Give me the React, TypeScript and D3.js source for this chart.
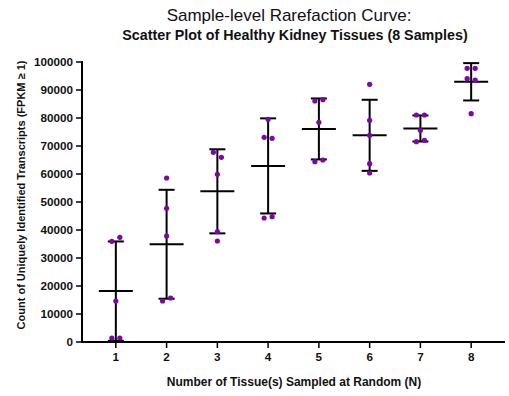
import React from "react";
import * as d3 from "d3";

// Tissues sampled at random (N) and the transcript counts observed for each draw
const groups = [1, 2, 3, 4, 5, 6, 7, 8];
const n1 = [35960, 37390, 14640, 1430, 1430];
const n2 = [58570, 47750, 37860, 14640, 15710];
const n3 = [67750, 65960, 59890, 39390, 36070];
const n4 = [73110, 72750, 79540, 44290, 44750];
const n5 = [86070, 86540, 78460, 64390, 65000];
const n6 = [92040, 79180, 73820, 63680, 60360];
const n7 = [81070, 81070, 75610, 71540, 72040];
const n8 = [97750, 97750, 94040, 93570, 81540];
const samples = [n1, n2, n3, n4, n5, n6, n7, n8];

const yTicks = [0, 10000, 20000, 30000, 40000, 50000, 60000, 70000, 80000, 90000, 100000];

const W = 509;
const H = 396;
const font = "'Liberation Sans', Arial, sans-serif";

export default function App() {
  const x = d3.scaleLinear().domain([1 / 3, 8 + 2 / 3]).range([82, 505]);
  const y = d3.scaleLinear().domain([0, 100000]).range([342, 62]);

  const purple = "#7D06A6";
  const dotR = 2.6;
  const halfMean = 17;
  const halfCap = 8;

  // Points whose values land within a few pixels are spread side by side
  const placeDots = (vals: number[]) => {
    const order = vals.map((v, i) => i).sort((a, b) => vals[b] - vals[a]);
    const clusters: number[][] = [];
    order.forEach((i) => {
      const last = clusters[clusters.length - 1];
      if (last && Math.abs(y(vals[last[last.length - 1]]) - y(vals[i])) < 7) last.push(i);
      else clusters.push([i]);
    });
    const off: number[] = new Array(vals.length).fill(0);
    clusters.forEach((c) => {
      const sorted = [...c].sort((a, b) => a - b);
      sorted.forEach((idx, k) => {
        off[idx] = (k - (sorted.length - 1) / 2) * 8;
      });
    });
    return off;
  };

  return (
    <svg width={W} height={H} style={{ position: "absolute", left: 0, top: 0 }}>
      <rect width={W} height={H} fill="#fff" />
      <text x={289} y={21} textAnchor="middle" fontFamily={font} fontSize={17} fill="#111">
        Sample-level Rarefaction Curve:
      </text>
      <text x={295} y={40} textAnchor="middle" fontFamily={font} fontSize={14.3} fontWeight="bold" fill="#111">
        Scatter Plot of Healthy Kidney Tissues (8 Samples)
      </text>

      {/* y axis */}
      <line x1={82} x2={82} y1={y(100000) - 1} y2={343} stroke="#000" strokeWidth={2} />
      {yTicks.map((t) => (
        <g key={t}>
          <line x1={76} x2={82} y1={y(t)} y2={y(t)} stroke="#000" strokeWidth={1.5} />
          <text x={73} y={y(t)} dy="0.35em" textAnchor="end" fontFamily={font} fontSize={11.7} fontWeight="bold" fill="#111">
            {t}
          </text>
        </g>
      ))}
      <text
        transform={`translate(25,195) rotate(-90)`}
        textAnchor="middle"
        fontFamily={font}
        fontSize={11}
        fontWeight="bold"
        fill="#111"
      >
        Count of  Uniquely Identified Transcripts (FPKM ≥ 1)
      </text>

      {/* x axis */}
      <line x1={81} x2={505} y1={342} y2={342} stroke="#000" strokeWidth={2} />
      {groups.map((g) => (
        <g key={g}>
          <line x1={x(g)} x2={x(g)} y1={342} y2={348} stroke="#000" strokeWidth={1.5} />
          <text x={x(g)} y={361} textAnchor="middle" fontFamily={font} fontSize={11.7} fontWeight="bold" fill="#111">
            {g}
          </text>
        </g>
      ))}
      <text x={294} y={386} textAnchor="middle" fontFamily={font} fontSize={12} fontWeight="bold" fill="#111">
        Number of Tissue(s) Sampled at Random (N)
      </text>

      {/* mean ± SD bars with individual draws */}
      {samples.map((vals, gi) => {
        const cx = x(groups[gi]);
        const m = d3.mean(vals) as number;
        const sd = d3.deviation(vals) as number;
        const lo = Math.max(0, m - sd);
        const hi = m + sd;
        const off = placeDots(vals);
        return (
          <g key={gi}>
            <line x1={cx} x2={cx} y1={y(hi)} y2={y(lo)} stroke="#000" strokeWidth={2} />
            <line x1={cx - halfCap} x2={cx + halfCap} y1={y(hi)} y2={y(hi)} stroke="#000" strokeWidth={2} />
            <line x1={cx - halfCap} x2={cx + halfCap} y1={y(lo)} y2={y(lo)} stroke="#000" strokeWidth={2} />
            <line x1={cx - halfMean} x2={cx + halfMean} y1={y(m)} y2={y(m)} stroke="#000" strokeWidth={2} />
            {vals.map((v, i) => (
              <circle key={i} cx={cx + off[i]} cy={y(v)} r={dotR} fill={purple} />
            ))}
          </g>
        );
      })}
    </svg>
  );
}
